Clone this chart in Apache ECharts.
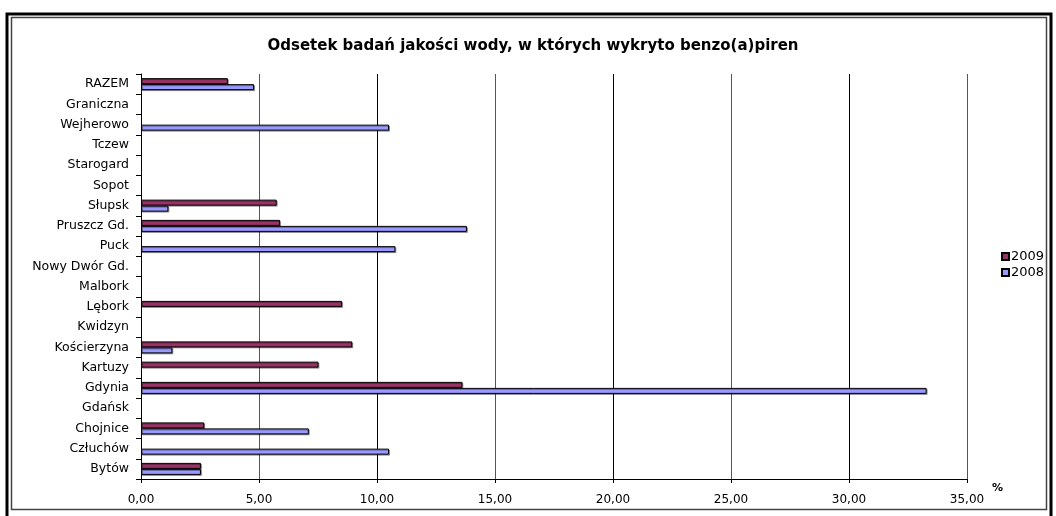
<!DOCTYPE html>
<html>
<head>
<meta charset="utf-8">
<title>benzo(a)piren</title>
<script src="https://cdn.jsdelivr.net/npm/echarts@6/dist/echarts.min.js"></script>
<style>
    html, body {margin: 0; padding: 0; background: #fff;}
    #chart {width: 1056px; height: 516px;}
</style>
</head>
<body>
<div id="chart"></div>
<script>
// kategorie od dolu do gory (jak na osi)
var cities = ['Bytów', 'Człuchów', 'Chojnice', 'Gdańsk', 'Gdynia', 'Kartuzy', 'Kościerzyna',
    'Kwidzyn', 'Lębork', 'Malbork', 'Nowy Dwór Gd.', 'Puck', 'Pruszcz Gd.', 'Słupsk',
    'Sopot', 'Starogard', 'Tczew', 'Wejherowo', 'Graniczna', 'RAZEM'];

var v2009 = [2.54, null, 2.68, null, 13.62, 7.52, 8.95, null, 8.52, null, null, null, 5.89, 5.75,
    null, null, null, null, null, 3.68];
var v2008 = [2.54, 10.51, 7.11, null, 33.29, null, 1.33, null, null, null, null, 10.78, 13.81, 1.16,
    null, null, null, 10.51, null, 4.79];

var xTicks = [0, 5, 10, 15, 20, 25, 30, 35];

var chart = echarts.init(document.getElementById('chart'));
var font = 'DejaVu Sans, Arial, sans-serif';

var barShadow = {
    borderColor: '#000',
    borderWidth: 1,
    shadowColor: 'rgba(0,0,0,0.35)',
    shadowOffsetX: 1,
    shadowOffsetY: 1
};

chart.setOption({
    animation: false,
    textStyle: {fontFamily: font},
    title: {
        text: 'Odsetek badań jakości wody, w których wykryto benzo(a)piren',
        left: 528,
        textAlign: 'center',
        top: 34,
        textStyle: {fontSize: 15, fontWeight: 'bold', color: '#000', fontFamily: font}
    },
    legend: {
        orient: 'vertical',
        left: 996,
        top: 245,
        itemWidth: 7,
        itemHeight: 7,
        itemGap: 3,
        icon: 'rect',
        textStyle: {fontSize: 13, color: '#000', padding: [0, 0, 0, -3], fontFamily: font},
        data: ['2009', '2008']
    },
    grid: {left: 141, right: 89, top: 74, bottom: 37},
    xAxis: {
        type: 'value',
        min: xTicks[0],
        max: xTicks[xTicks.length - 1],
        interval: 5,
        name: '%',
        nameLocation: 'end',
        nameGap: 25,
        nameTextStyle: {fontSize: 11, fontWeight: 'bold', color: '#000', verticalAlign: 'top', padding: [4, 0, 0, 0]},
        axisLine: {show: true, lineStyle: {color: '#000', width: 1}},
        axisTick: {show: true, length: 4, lineStyle: {color: '#000'}},
        axisLabel: {
            fontSize: 12, color: '#000', margin: 15,
            formatter: function (v) {
                return v.toFixed(2).replace('.', ',');
            }
        },
        splitLine: {show: true, lineStyle: {color: ['#000', '#555'], width: 1}}
    },
    yAxis: {
        type: 'category',
        data: cities,
        axisLine: {show: true, lineStyle: {color: '#000', width: 1}},
        axisTick: {show: true, length: 5, lineStyle: {color: '#000'}},
        axisLabel: {fontSize: 12.5, color: '#000', margin: 12}
    },
    series: [
        {
            name: '2009',
            type: 'bar',
            data: v2009,
            barWidth: 6,
            barGap: '0%',
            itemStyle: Object.assign({color: '#993366'}, barShadow)
        },
        {
            name: '2008',
            type: 'bar',
            data: v2008,
            barWidth: 6,
            barGap: '0%',
            itemStyle: Object.assign({color: '#9999FF'}, barShadow)
        }
    ],
    graphic: [
        // ramka zewnetrzna (podwojna)
        {type: 'rect', silent: true, shape: {x: 7, y: 14, width: 1044, height: 510},
            style: {fill: null, stroke: '#000', lineWidth: 3}},
        {type: 'rect', silent: true, shape: {x: 11.5, y: 17.5, width: 1035, height: 492},
            style: {fill: null, stroke: '#444', lineWidth: 1.5}}
    ]
});
</script>
</body>
</html>
